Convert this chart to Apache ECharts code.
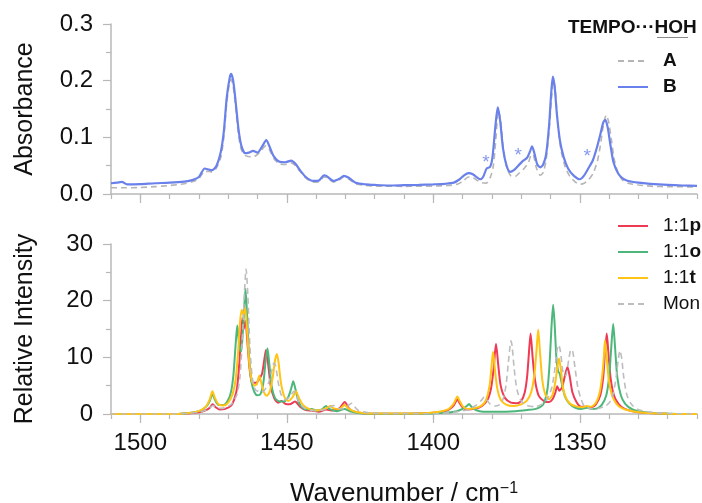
<!DOCTYPE html>
<html>
<head>
<meta charset="utf-8">
<script src="https://cdn.jsdelivr.net/npm/echarts@6/dist/echarts.min.js"></script>
<style>
  html, body { margin: 0; padding: 0; background: #fff; }
  #chart { width: 702px; height: 503px; }
</style>
</head>
<body>
<div id="chart"></div>
<script>
// wavenumber range and tick positions
const X_MIN = 1310;
const X_MAX = 1510;
const X_MAJOR_TICKS = [1500, 1450, 1400, 1350];

// top panel: experimental absorbance, [wavenumber, absorbance]
const ABS_A = [
  [1510, 0.011], [1505, 0.011], [1500, 0.0115], [1495, 0.013], [1490, 0.015], [1485, 0.018],
  [1482, 0.022], [1480, 0.027], [1478, 0.040], [1476.5, 0.040], [1475.5, 0.039], [1474, 0.046],
  [1472.5, 0.065], [1471.5, 0.10], [1470.5, 0.16], [1469.5, 0.198], [1469, 0.202], [1468.3, 0.19],
  [1467.5, 0.155], [1466.5, 0.105], [1465.5, 0.078], [1464.2, 0.068], [1463, 0.066], [1462, 0.065],
  [1460.5, 0.068], [1459, 0.075], [1457.2, 0.085], [1456, 0.079], [1454.5, 0.063], [1452.5, 0.053],
  [1450.5, 0.052], [1448.5, 0.055], [1447, 0.050], [1445.5, 0.040], [1443.5, 0.028], [1441, 0.021],
  [1439, 0.022], [1437.3, 0.030], [1436.5, 0.029], [1434, 0.021], [1432, 0.025], [1430.5, 0.030],
  [1429, 0.027], [1426.5, 0.018], [1423, 0.015], [1420, 0.014], [1410, 0.0135], [1400, 0.014],
  [1395, 0.015], [1392, 0.017], [1390, 0.022], [1388, 0.030], [1386.5, 0.029], [1385, 0.024],
  [1383.5, 0.020], [1382, 0.019], [1380.5, 0.030], [1379.5, 0.05], [1378.6, 0.10], [1377.8, 0.147],
  [1377, 0.13], [1376, 0.075], [1374.8, 0.045], [1373.5, 0.032], [1372, 0.031], [1370.5, 0.038],
  [1369, 0.045], [1367.5, 0.056], [1366.5, 0.070], [1365.8, 0.068], [1364.8, 0.046], [1363.5, 0.033],
  [1362.5, 0.038], [1361.5, 0.06], [1360.5, 0.11], [1359.6, 0.172], [1359, 0.20], [1358.4, 0.185],
  [1357.6, 0.13], [1356.5, 0.08], [1355, 0.048], [1353.5, 0.032], [1351.5, 0.021], [1350, 0.017],
  [1348.5, 0.019], [1347, 0.025], [1345.5, 0.036], [1344, 0.058], [1343, 0.085], [1342, 0.12],
  [1341, 0.139], [1340.2, 0.128], [1339.2, 0.095], [1338.2, 0.06], [1337, 0.038], [1335.5, 0.025],
  [1333.5, 0.019], [1330, 0.016], [1325, 0.0135], [1320, 0.013], [1310, 0.0125]
];

const ABS_B = [
  [1510, 0.019], [1508, 0.020], [1506.3, 0.0215], [1504.5, 0.017], [1500, 0.0175], [1495, 0.019],
  [1490, 0.020], [1485, 0.022], [1482, 0.025], [1480, 0.030], [1478, 0.045], [1476.5, 0.043],
  [1475.5, 0.042], [1474, 0.050], [1472.5, 0.075], [1471.5, 0.11], [1470.5, 0.17], [1469.5, 0.205],
  [1469, 0.212], [1468.3, 0.20], [1467.5, 0.165], [1466.5, 0.115], [1465.5, 0.085], [1464.2, 0.072],
  [1463, 0.073], [1461.5, 0.076], [1460, 0.073], [1458.5, 0.083], [1457, 0.095], [1456, 0.085],
  [1454.5, 0.067], [1452.5, 0.057], [1450.5, 0.056], [1448.5, 0.059], [1447, 0.053], [1445.5, 0.042],
  [1443.5, 0.030], [1441, 0.023], [1439, 0.024], [1437.3, 0.033], [1436.5, 0.032], [1434, 0.023],
  [1432, 0.027], [1430.5, 0.032], [1429, 0.029], [1426.5, 0.020], [1423, 0.017], [1420, 0.016],
  [1415, 0.015], [1410, 0.0155], [1405, 0.016], [1400, 0.017], [1396, 0.018], [1393, 0.020],
  [1391, 0.026], [1389.5, 0.033], [1388, 0.037], [1386.5, 0.035], [1385, 0.029], [1384, 0.026],
  [1383, 0.030], [1381.8, 0.045], [1380.6, 0.048], [1379.8, 0.065], [1378.8, 0.12], [1378, 0.153],
  [1377.2, 0.13], [1376.2, 0.08], [1375, 0.05], [1373.8, 0.039], [1372.5, 0.042], [1371, 0.050],
  [1369.5, 0.058], [1368, 0.064], [1367, 0.075], [1366.3, 0.084], [1365.5, 0.072], [1364.5, 0.052],
  [1363.5, 0.047], [1362.5, 0.052], [1361.5, 0.07], [1360.5, 0.12], [1359.8, 0.175], [1359.2, 0.207],
  [1358.6, 0.19], [1357.8, 0.14], [1356.8, 0.095], [1355.5, 0.065], [1354, 0.045], [1352, 0.032],
  [1350, 0.026], [1348.5, 0.033], [1347, 0.046], [1345.5, 0.06], [1344, 0.085], [1343, 0.105],
  [1342, 0.126], [1341.3, 0.131], [1340.5, 0.118], [1339.5, 0.085], [1338.5, 0.056], [1337, 0.037],
  [1335.5, 0.028], [1333.5, 0.023], [1330, 0.020], [1326, 0.018], [1320, 0.016], [1315, 0.015],
  [1310, 0.0145]
];

// asterisk marks over the B spectrum
const STAR_MARKS = [[1382, 0.055], [1371, 0.067], [1347.5, 0.065]];

// bottom panel: computed relative intensities, [wavenumber, intensity]
const CALC_P = [
  [1510, 0], [1490, 0], [1484, 0.1], [1480, 0.3], [1477.5, 0.7], [1476.3, 1.1], [1475.3, 1.7],
  [1474.3, 1.2], [1473, 0.8], [1471, 0.9], [1469, 1.5], [1468, 2.5], [1467, 4.5], [1466.2, 9],
  [1465.6, 14], [1465.2, 16.9], [1464.7, 15], [1464.1, 16.4], [1463.5, 13], [1462.7, 8], [1461.8, 5.5],
  [1460.4, 5.5], [1459.6, 6.0], [1458.5, 7], [1457.7, 9.5], [1457.1, 11.3], [1456.4, 9], [1455.5, 5],
  [1454.3, 2.8], [1453, 2.0], [1451.8, 2.3], [1450.5, 1.8], [1449, 1.7], [1447.2, 2.2], [1445.5, 1.3],
  [1443.5, 0.7], [1441.5, 0.6], [1439, 0.4], [1436.5, 0.8], [1434.5, 0.6], [1432, 1.0], [1430.2, 2.1],
  [1428.8, 1.0], [1427, 0.4], [1424, 0.15], [1418, 0.05], [1405, 0.1], [1398, 0.3], [1395, 0.7],
  [1393.2, 1.4], [1392.4, 2.1], [1391.8, 2.6], [1391.1, 2.0], [1390, 1.2], [1388.5, 0.8], [1386, 0.9],
  [1383.5, 1.4], [1381.5, 2.5], [1380.3, 4.5], [1379.4, 8], [1378.6, 12.4], [1377.8, 8.5], [1377, 5],
  [1375.5, 2.8], [1373.5, 2.0], [1371.5, 1.9], [1370, 2.3], [1368.8, 3.8], [1368, 6.5], [1367.4, 10.5],
  [1366.8, 14.2], [1366.1, 10], [1365.3, 6], [1364, 3.2], [1362, 2.2], [1360.5, 2.1], [1359.3, 2.6],
  [1358.4, 3.7], [1357.7, 4.9], [1357, 4.1], [1356, 4.8], [1355, 6.9], [1354.2, 8.3], [1353.4, 6.5],
  [1352.5, 3.8], [1351, 2.0], [1349.5, 1.3], [1347.6, 1.3], [1346, 1.2], [1344.5, 1.7], [1343, 3.3],
  [1342, 6.5], [1341.4, 11], [1340.8, 14.2], [1340.2, 10.5], [1339.4, 6], [1338.3, 3.2], [1336.8, 1.8],
  [1335, 1.0], [1332, 0.5], [1328, 0.2], [1320, 0.05], [1310, 0]
];

const CALC_O = [
  [1510, 0], [1490, 0], [1484, 0.15], [1480, 0.5], [1477.5, 1.3], [1476.3, 2.3], [1475.4, 3.5],
  [1474.5, 2.5], [1473.3, 1.6], [1471.5, 1.6], [1470, 2.5], [1469, 4], [1468.2, 7], [1467.5, 12],
  [1466.9, 15.6], [1466.3, 12.5], [1465.6, 11], [1465, 14.5], [1464.5, 19], [1464.1, 22.1],
  [1463.5, 17], [1462.8, 9.5], [1462, 5.5], [1461, 3.8], [1460, 3.3], [1459, 3.5], [1458, 5.5],
  [1457.2, 9.5], [1456.6, 11.6], [1456, 9], [1455.2, 5], [1454, 2.8], [1452.5, 2.2], [1451, 2.2],
  [1449.5, 3], [1448.5, 4.5], [1447.8, 5.8], [1447.1, 4.5], [1446, 2.2], [1444.5, 1.0], [1443, 0.8],
  [1441.5, 0.9], [1440, 0.6], [1438, 0.8], [1436.6, 1.4], [1435.5, 0.9], [1433, 0.5], [1430.3, 0.9],
  [1428.5, 0.5], [1425, 0.15], [1418, 0.05], [1405, 0.05], [1396, 0.2], [1392, 0.5], [1390, 0.9],
  [1388.6, 1.4], [1387.8, 1.75], [1387, 1.3], [1385.5, 0.7], [1383, 0.4], [1378, 0.4], [1372, 0.5],
  [1368, 0.7], [1365, 0.9], [1363, 1.4], [1362, 2.2], [1361, 4.5], [1360.3, 9], [1359.7, 15],
  [1359.1, 19.3], [1358.6, 16], [1358, 10], [1357.4, 7.5], [1356.9, 7.2], [1356.2, 5.5], [1355, 3],
  [1353.5, 1.8], [1351.5, 1.1], [1349.5, 0.9], [1347.6, 1.1], [1346, 0.9], [1344, 1.0], [1342.5, 1.6],
  [1341, 3.2], [1340, 6.5], [1339.3, 11.5], [1338.6, 15.9], [1338, 12], [1337.2, 6.5], [1336, 3.3],
  [1334.5, 1.8], [1332, 0.8], [1328, 0.3], [1320, 0.05], [1310, 0]
];

const CALC_T = [
  [1510, 0], [1490, 0], [1484, 0.15], [1480, 0.5], [1477.5, 1.4], [1476.3, 2.6], [1475.4, 4.0],
  [1474.5, 2.8], [1473.3, 1.7], [1471.5, 1.5], [1470, 2.0], [1468.5, 3.5], [1467.5, 6], [1466.6, 11],
  [1466, 16], [1465.4, 18.4], [1464.8, 17.5], [1464.2, 18.7], [1463.6, 15], [1462.8, 9], [1462, 6],
  [1461, 5], [1460.2, 5.3], [1459.4, 6.75], [1458.7, 5.5], [1457.8, 3.8], [1456.8, 3.2], [1455.8, 4],
  [1454.8, 6.5], [1454, 9.5], [1453.4, 10.6], [1452.8, 9], [1452, 5.5], [1450.8, 3], [1449.5, 2.3],
  [1448, 3], [1446.9, 4.0], [1446, 3], [1444.5, 1.6], [1442.5, 0.9], [1440, 0.6], [1437, 0.9],
  [1435.1, 1.4], [1434, 1.0], [1432, 0.9], [1430.3, 1.6], [1428.8, 0.9], [1426, 0.3], [1420, 0.08],
  [1405, 0.1], [1398, 0.4], [1395, 0.8], [1393.2, 1.7], [1392.4, 2.5], [1391.8, 3.1], [1391.1, 2.4],
  [1390, 1.4], [1388.5, 0.9], [1386, 1.0], [1383.5, 1.5], [1382, 2.5], [1380.8, 5], [1380.2, 8],
  [1379.6, 11.0], [1379, 8], [1378.2, 4.6], [1377, 2.5], [1375, 1.6], [1372.5, 1.4], [1370, 1.7],
  [1368, 2.4], [1366.5, 4], [1365.5, 7], [1364.8, 11], [1364.2, 14.9], [1363.6, 11], [1362.8, 6],
  [1361.8, 3.5], [1360.5, 2.6], [1359.3, 3.4], [1358.3, 5.8], [1357.6, 8.5], [1357.1, 9.8],
  [1356.5, 8], [1355.7, 4.5], [1354.5, 2.6], [1353, 1.7], [1351, 1.3], [1349, 1.2], [1347.6, 1.4],
  [1346.2, 1.3], [1344.5, 2], [1343.2, 3.8], [1342.3, 7], [1341.8, 10], [1341.4, 13.0], [1340.9, 10.5],
  [1340.1, 6], [1339, 3.3], [1337.5, 1.8], [1335.5, 1.0], [1332, 0.5], [1328, 0.2], [1320, 0.05],
  [1310, 0]
];

const CALC_MON = [
  [1510, 0], [1490, 0], [1484, 0.1], [1480, 0.3], [1477.5, 0.7], [1476.2, 1.1], [1475.2, 1.5],
  [1474.2, 1.2], [1472.5, 1.0], [1470.5, 1.2], [1468.5, 2], [1467, 3.5], [1466, 6.5], [1465.2, 13],
  [1464.5, 21], [1463.9, 25.6], [1463.3, 21], [1462.6, 12], [1461.8, 6.5], [1460.8, 4.3], [1459.8, 4.0],
  [1458.8, 3.8], [1457.5, 4.3], [1456.2, 5.5], [1455.2, 7.5], [1454.4, 9], [1453.8, 8.5], [1453, 5.8],
  [1452, 3.5], [1450.5, 2.5], [1449, 3], [1448, 3.8], [1447.4, 4.0], [1446.7, 3.2], [1445.5, 1.8],
  [1443.5, 0.9], [1440.5, 0.6], [1437, 0.8], [1435, 1.3], [1434, 1.5], [1433, 1.1], [1431, 0.9],
  [1429, 1.5], [1427.9, 1.9], [1427, 1.4], [1425.5, 0.6], [1422, 0.2], [1415, 0.05], [1400, 0.05],
  [1392, 0.4], [1388, 0.8], [1385.5, 1.5], [1383.6, 2.4], [1382.6, 3.0], [1381.8, 2.5], [1380.5, 1.7],
  [1379, 1.4], [1377.5, 1.6], [1376.2, 2.6], [1375.2, 5], [1374.4, 9], [1373.8, 12], [1373.5, 12.9],
  [1373.1, 12], [1372.4, 8], [1371.4, 4.2], [1370, 2.3], [1368, 1.5], [1365.5, 1.3], [1363, 1.7],
  [1361, 2.7], [1359.5, 4.8], [1358.5, 8], [1357.7, 11.5], [1357.2, 12.2], [1356.6, 11], [1355.6, 7],
  [1354.8, 6.8], [1353.8, 9.5], [1353, 11.4], [1352.4, 11], [1351.6, 8], [1350.6, 4.5], [1349.5, 2.5],
  [1348.5, 1.4], [1347.6, 1.2], [1346, 0.9], [1343.5, 1.0], [1341, 1.5], [1339.5, 2.3], [1338.5, 3.8],
  [1337.6, 6.5], [1336.9, 9.5], [1336.3, 11.2], [1335.7, 9.8], [1335, 6.5], [1334, 3.5], [1332.5, 1.8],
  [1330.5, 0.9], [1327, 0.4], [1320, 0.1], [1310, 0]
];

const FONT = '"Liberation Sans", Arial, sans-serif';
const AXIS_COLOR = '#b8b8b8';
const TEXT_COLOR = '#111';

const COLORS = {
  A: '#b5b5b5',
  B: '#6a80ea',
  p: '#ee3a55',
  o: '#4db77b',
  t: '#ffc414',
  mon: '#bdbdbd',
};

function xAxesFor(gridIndex, showLabels) {
  const base = {
    type: 'value',
    gridIndex,
    min: X_MIN,
    max: X_MAX,
    inverse: true,
    position: 'bottom',
    splitLine: { show: false },
  };
  return [
    {
      ...base,
      interval: 10,
      axisLine: { show: true, lineStyle: { color: AXIS_COLOR, width: 1.5 } },
      axisTick: { show: true, length: 5, lineStyle: { color: AXIS_COLOR, width: 1.2 } },
      axisLabel: showLabels
        ? { show: true, customValues: X_MAJOR_TICKS, fontSize: 24, color: TEXT_COLOR, margin: 17,
            formatter: (v) => String(v) }
        : { show: false },
      name: showLabels ? 'Wavenumber / cm{sup|\u22121}' : '',
      nameLocation: 'middle',
      nameGap: 67,
      nameTextStyle: {
        fontSize: 26,
        color: TEXT_COLOR,
        rich: { sup: { fontSize: 16, color: TEXT_COLOR, verticalAlign: 'top' } },
      },
    },
    {
      ...base,
      axisLine: { show: false },
      axisTick: { show: true, customValues: X_MAJOR_TICKS, length: 9, lineStyle: { color: AXIS_COLOR, width: 1.2 } },
      axisLabel: { show: false },
    },
  ];
}

function yAxisFor(gridIndex, max, interval, name, formatter) {
  return {
    type: 'value',
    gridIndex,
    min: 0,
    max,
    interval,
    name,
    nameLocation: 'middle',
    nameGap: 73,
    nameTextStyle: { fontSize: 25, color: TEXT_COLOR },
    axisLine: { show: true, lineStyle: { color: AXIS_COLOR, width: 1.5 } },
    axisTick: { show: true, length: 8, lineStyle: { color: AXIS_COLOR, width: 1.2 } },
    minorTick: { show: true, splitNumber: 2, length: 5, lineStyle: { color: AXIS_COLOR, width: 1.2 } },
    splitLine: { show: false },
    minorSplitLine: { show: false },
    axisLabel: { fontSize: 24, color: TEXT_COLOR, margin: 18, formatter },
  };
}

function lineSeries(name, data, color, xAxisIndex, yAxisIndex, dashed, width) {
  return {
    type: 'line',
    name,
    data,
    xAxisIndex,
    yAxisIndex,
    symbol: 'none',
    smooth: 0.25,
    lineStyle: { color, width, type: dashed ? [6, 4] : 'solid' },
    itemStyle: { color },
    silent: true,
  };
}

const legendBase = {
  orient: 'vertical',
  left: 617,
  padding: 0,
  itemWidth: 30,
  itemHeight: 14,
  itemGap: 0,
  selectedMode: false,
  itemStyle: { opacity: 0 },
};

const chart = echarts.init(document.getElementById('chart'));

const option = {
  animation: false,
  backgroundColor: '#fff',
  textStyle: { fontFamily: FONT },
  grid: [
    { left: 111, top: 24, width: 586, height: 170, outerBoundsMode: 'none' },
    { left: 111, top: 244, width: 586, height: 170, outerBoundsMode: 'none' },
  ],
  xAxis: [...xAxesFor(0, false), ...xAxesFor(1, true)],
  yAxis: [
    yAxisFor(0, 0.3, 0.1, 'Absorbance', (v) => v.toFixed(1)),
    yAxisFor(1, 30, 10, 'Relative Intensity', (v) => String(v)),
  ],
  legend: [
    {
      ...legendBase,
      data: ['A', 'B'],
      top: 48,
      textStyle: { fontSize: 19, fontWeight: 'bold', color: TEXT_COLOR, lineHeight: 26, padding: [0, 0, 0, 10] },
    },
    {
      ...legendBase,
      data: ['1:1p', '1:1o', '1:1t', 'Mon'],
      top: 213,
      formatter: (name) => (name === 'Mon' ? name : '1:1{b|' + name.slice(3) + '}'),
      textStyle: {
        fontSize: 19,
        color: TEXT_COLOR,
        lineHeight: 26,
        padding: [0, 0, 0, 10],
        rich: { b: { fontSize: 19, fontWeight: 'bold', color: TEXT_COLOR, lineHeight: 26 } },
      },
    },
  ],
  graphic: [
    {
      type: 'text',
      left: 568,
      top: 18,
      style: { text: 'TEMPO\u00B7\u00B7\u00B7HOH', font: 'bold 19px ' + FONT, fill: TEXT_COLOR },
    },
    {
      type: 'line',
      shape: { x1: 657, y1: 37.5, x2: 688, y2: 37.5 },
      style: { stroke: '#8a8a8a', lineWidth: 1 },
    },
  ],
  series: [
    lineSeries('A', ABS_A, COLORS.A, 0, 0, true, 1.6),
    lineSeries('B', ABS_B, COLORS.B, 0, 0, false, 2.2),
    {
      type: 'scatter',
      name: 'marks',
      data: STAR_MARKS,
      xAxisIndex: 0,
      yAxisIndex: 0,
      symbolSize: 1,
      itemStyle: { color: 'rgba(0,0,0,0)' },
      label: { show: true, formatter: '*', position: 'inside', fontSize: 19, color: COLORS.B },
      silent: true,
    },
    lineSeries('1:1p', CALC_P, COLORS.p, 2, 1, false, 2),
    lineSeries('1:1o', CALC_O, COLORS.o, 2, 1, false, 2),
    lineSeries('1:1t', CALC_T, COLORS.t, 2, 1, false, 2),
    lineSeries('Mon', CALC_MON, COLORS.mon, 2, 1, true, 1.6),
  ],
};

chart.setOption(option);
</script>
</body>
</html>
